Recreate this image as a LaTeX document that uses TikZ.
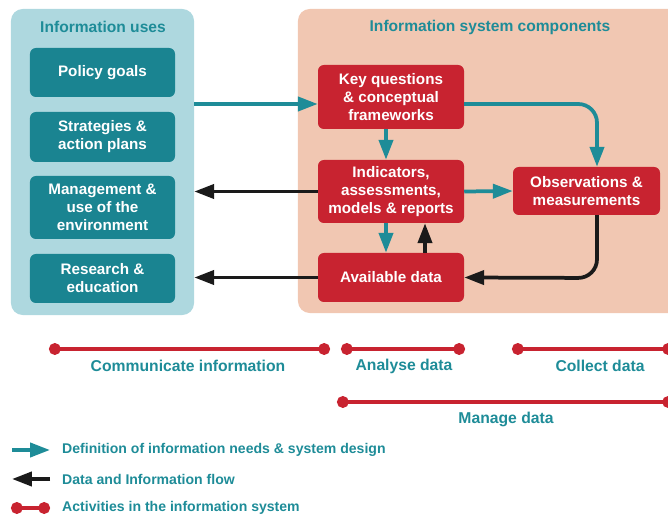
\documentclass[tikz,border=0pt]{standalone}
\usepackage{fontspec}
\setmainfont{Liberation Sans}
\usetikzlibrary{arrows.meta}
\definecolor{panelblue}{HTML}{AED8DF}
\definecolor{tealbox}{HTML}{1A8491}
\definecolor{tealline}{HTML}{1E8C98}
\definecolor{peach}{HTML}{F1C7B2}
\definecolor{redbox}{HTML}{C82330}
\definecolor{flowblack}{HTML}{1A1A1A}
\begin{document}
\begin{tikzpicture}[x=0.03cm,y=-0.03cm,>={Triangle[length=17pt,width=12pt]},
  boxtext/.style={font=\fontsize{13}{15.4}\selectfont\bfseries,text=white,align=center,inner sep=0pt,rounded corners=5pt},
  usebox/.style={boxtext,fill=tealbox,minimum width=4.35cm},
  sysbox/.style={boxtext,fill=redbox,minimum width=4.38cm},
  paneltitle/.style={font=\fontsize{13.3}{15.4}\selectfont\bfseries,text=tealline},
  design/.style={->,draw=tealline,line width=3.2pt},
  flow/.style={->,draw=flowblack,line width=3.2pt},
  activity/.style={{Circle[length=10pt]}-{Circle[length=10pt]},draw=redbox,line width=3.4pt},
  actlabel/.style={font=\fontsize{13.4}{15.4}\selectfont\bfseries,text=tealline},
  legtext/.style={font=\fontsize{12}{14}\selectfont\bfseries,text=tealline,anchor=west,inner xsep=0pt}]
\useasboundingbox (0,0) rectangle (668,517);

\node (uses) at (102.5,162)[rectangle,fill=panelblue,rounded corners=10pt,minimum width=5.49cm,minimum height=9.18cm]{};
\node (comps) at (493,161)[rectangle,fill=peach,rounded corners=10pt,minimum width=11.7cm,minimum height=9.12cm]{};
\node (usestitle) at (103,27)[paneltitle]{Information uses};
\node (compstitle) at (490,27)[paneltitle]{Information system components};

\node (policy) at (102.5,72.5)[usebox,minimum height=1.47cm]{Policy goals};
\node (strat) at (102.5,137)[usebox,minimum height=1.5cm]{Strategies \&\\action plans};
\node (manage) at (102.5,207.5)[usebox,minimum height=1.89cm]{Management \&\\use of the\\environment};
\node (research) at (102.5,278.5)[usebox,minimum height=1.47cm]{Research \&\\education};

\node (keyq) at (391,97)[sysbox,minimum height=1.92cm]{Key questions\\\& conceptual\\frameworks};
\node (indic) at (391,191.5)[sysbox,minimum height=1.89cm]{Indicators,\\assessments,\\models \& reports};
\node (obs) at (586.5,191)[sysbox,minimum width=4.41cm,minimum height=1.44cm]{Observations \&\\measurements};
\node (avail) at (391,277.5)[sysbox,minimum height=1.47cm]{Available data};

\draw[design] (uses.east |- 0,104)--(keyq.west |- 0,104);
\draw[design,rounded corners=16pt] (keyq.east |- 0,104)--(597,104)--(obs.north -| 597,0);
\draw[design] (keyq.south -| 386,0)--(indic.north -| 386,0);
\draw[design] (indic.east)--(obs.west);
\draw[design] (indic.south -| 386,0)--(avail.north -| 386,0);
\draw[flow] (avail.north -| 425,0)--(indic.south -| 425,0);
\draw[flow,rounded corners=16pt] (obs.south -| 597,0)--(597,278)--(avail.east);
\draw[flow] (indic.west)--(uses.east |- indic.west);
\draw[flow] (avail.west)--(uses.east |- avail.west);

\draw[activity] (49,349)--(330,349);
\draw[activity] (341,349)--(465,349);
\draw[activity] (512,349)--(674,349);
\draw[activity] (337,402)--(674,402);
\node (commlabel) at (188,366)[actlabel]{Communicate information};
\node (analabel) at (404,366)[actlabel]{Analyse data};
\node (colllabel) at (600,366)[actlabel]{Collect data};
\node (manlabel) at (506,419)[actlabel]{Manage data};

\draw[design] (12,450)--(50,450);
\node (legdesign) at (62,450)[legtext]{Definition of information needs \& system design};
\draw[flow] (50,479)--(12,479);
\node (legflow) at (62,479)[legtext]{Data and Information flow};
\draw[activity] (11,508)--(50,508);
\node (legact) at (62,508)[legtext]{Activities in the information system};
\end{tikzpicture}
\end{document}
